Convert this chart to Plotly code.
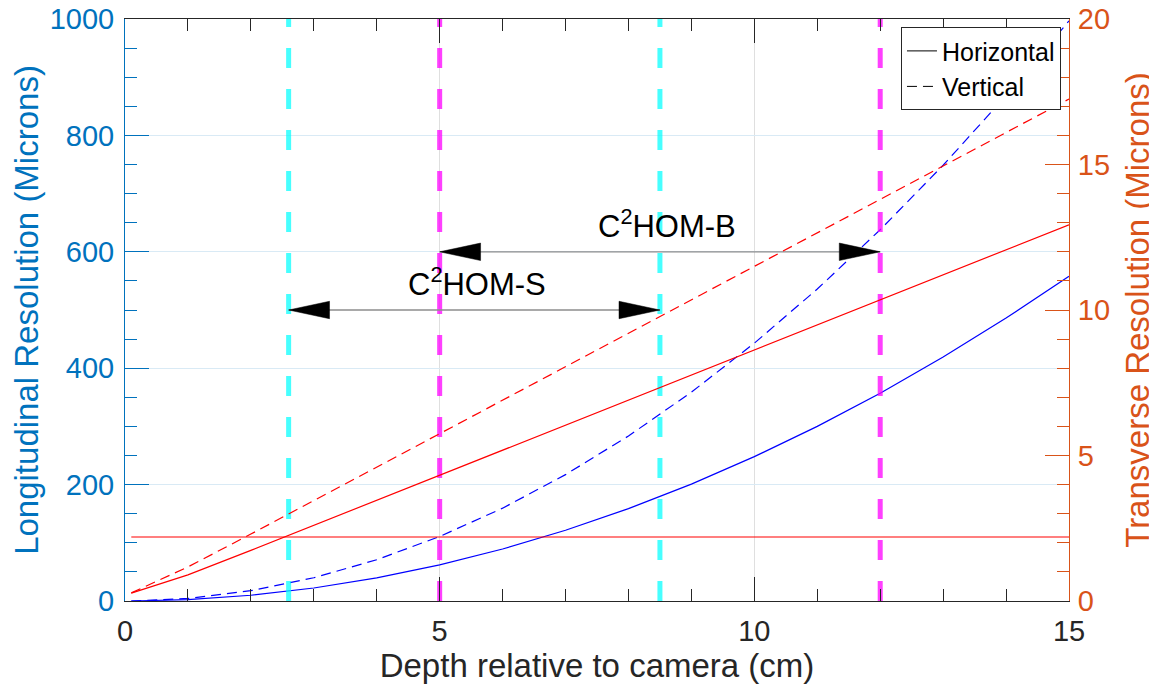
import plotly.graph_objects as go

# ---------------- data ----------------
x_cm = [0.1, 1, 2, 3, 4, 5, 6, 7, 8, 9, 10, 11, 12, 13, 14, 15]
long_h = [0.02, 2.5, 9.9, 22.3, 39.7, 62.0, 89.3, 121.5, 158.7, 200.9, 248.0, 300.1, 357.1, 419.1, 486.1, 558.0]
long_v = [0.04, 4.4, 17.7, 39.9, 70.9, 110.8, 159.5, 217.1, 283.5, 358.8, 443.0, 536.0, 637.9, 748.7, 868.3, 996.8]
trans_h = [0.27, 0.90, 1.74, 2.60, 3.46, 4.32, 5.18, 6.04, 6.90, 7.76, 8.62, 9.48, 10.35, 11.21, 12.07, 12.93]
trans_v = [0.28, 1.17, 2.30, 3.45, 4.60, 5.75, 6.90, 8.05, 9.20, 10.35, 11.50, 12.65, 13.80, 14.95, 16.10, 17.25]
floor_x = [0.1, 15]
floor_val = [2.2, 2.2]

cyan_x = [2.6, 8.5]
magenta_x = [5.0, 12.0]
guide_y = [0, 1000]

arrow_labels = ["C<sup>2</sup>HOM-S", "C<sup>2</sup>HOM-B"]
arrow_start = [2.6, 5.0]
arrow_end = [8.5, 12.0]
arrow_y = [500, 600]
label_x = [5.6, 8.62]

x_ticks = [0, 5, 10, 15]
left_ticks = [0, 200, 400, 600, 800, 1000]
right_ticks = [0, 5, 10, 15, 20]

# ---------------- style ----------------
FONT = "Liberation Sans, Arial, Helvetica, sans-serif"
AX_DARK = "#262626"
BLUE_AX = "#0072BD"
ORANGE_AX = "#D95319"
HEAD_LEN = 0.65      # cm
HEAD_HALF = 15       # microns
CURVE_W = 1.2
DASH = "10px,6px"

fig = go.Figure()

# longitudinal (left axis)
fig.add_trace(go.Scatter(x=x_cm, y=long_h, mode="lines", line=dict(color="#0000FF", width=CURVE_W),
                         showlegend=False, yaxis="y"))
fig.add_trace(go.Scatter(x=x_cm, y=long_v, mode="lines", line=dict(color="#0000FF", width=CURVE_W, dash=DASH),
                         showlegend=False, yaxis="y"))
# transverse (right axis)
fig.add_trace(go.Scatter(x=x_cm, y=trans_h, mode="lines", line=dict(color="#FF0000", width=CURVE_W),
                         showlegend=False, yaxis="y2"))
fig.add_trace(go.Scatter(x=x_cm, y=trans_v, mode="lines", line=dict(color="#FF0000", width=CURVE_W, dash=DASH),
                         showlegend=False, yaxis="y2"))
fig.add_trace(go.Scatter(x=floor_x, y=floor_val, mode="lines", line=dict(color="#FF0000", width=CURVE_W),
                         showlegend=False, yaxis="y2"))

# vertical guide lines
for cx in cyan_x:
    fig.add_trace(go.Scatter(x=[cx, cx], y=guide_y, mode="lines",
                             line=dict(color="rgba(0,255,255,0.72)", width=5, dash="20px,21px"),
                             showlegend=False, yaxis="y"))
for mx in magenta_x:
    fig.add_trace(go.Scatter(x=[mx, mx], y=guide_y, mode="lines",
                             line=dict(color="rgba(255,0,255,0.75)", width=5, dash="20px,21px"),
                             showlegend=False, yaxis="y"))

# double-headed arrows
for lab, s, e, ay, lx in zip(arrow_labels, arrow_start, arrow_end, arrow_y, label_x):
    fig.add_trace(go.Scatter(x=[s, e], y=[ay, ay], mode="lines", line=dict(color="#8c8c8c", width=1.3),
                             showlegend=False, yaxis="y"))
    fig.add_trace(go.Scatter(x=[s, s + HEAD_LEN, s + HEAD_LEN, s], y=[ay, ay + HEAD_HALF, ay - HEAD_HALF, ay],
                             mode="lines", fill="toself", fillcolor="black", line=dict(color="black", width=0.5),
                             showlegend=False, yaxis="y"))
    fig.add_trace(go.Scatter(x=[e, e - HEAD_LEN, e - HEAD_LEN, e], y=[ay, ay + HEAD_HALF, ay - HEAD_HALF, ay],
                             mode="lines", fill="toself", fillcolor="black", line=dict(color="black", width=0.5),
                             showlegend=False, yaxis="y"))
    fig.add_annotation(x=lx, y=ay, xref="x", yref="y", text=lab, showarrow=False,
                       xanchor="center", yanchor="bottom", yshift=6,
                       font=dict(family=FONT, size=31, color="black"))

# legend entries
fig.add_trace(go.Scatter(x=[None], y=[None], mode="lines", name="Horizontal",
                         line=dict(color="black", width=1)))
fig.add_trace(go.Scatter(x=[None], y=[None], mode="lines", name="Vertical",
                         line=dict(color="black", width=1, dash=DASH)))

fig.update_layout(
    width=1157, height=686,
    margin=dict(l=117, r=96, t=11, b=93),
    paper_bgcolor="white", plot_bgcolor="white",
    font=dict(family=FONT),
    xaxis=dict(
        range=[0, 15], tickvals=x_ticks, ticks="inside", ticklen=24, tickcolor=AX_DARK, tickwidth=1,
        showline=True, linecolor=AX_DARK, linewidth=1, mirror="ticks",
        showgrid=True, gridcolor="#DFDFDF", gridwidth=1, zeroline=False,
        minor=dict(ticks="inside", ticklen=12, dtick=1, tickcolor=AX_DARK, showgrid=False),
        tickfont=dict(family=FONT, size=29, color=AX_DARK), ticklabelstandoff=4,
        ticklabeloverflow="allow",
        title=dict(text="Depth relative to camera (cm)", font=dict(family=FONT, size=33, color=AX_DARK), standoff=5),
        automargin=False,
    ),
    yaxis=dict(
        range=[0, 1000], tickvals=left_ticks, ticks="inside", ticklen=24, tickcolor=BLUE_AX, tickwidth=1,
        showline=True, linecolor=BLUE_AX, linewidth=1,
        showgrid=True, gridcolor="#D9EAF5", gridwidth=1, zeroline=False,
        minor=dict(ticks="inside", ticklen=12, dtick=50, tickcolor=BLUE_AX, showgrid=False),
        tickfont=dict(family=FONT, size=29, color=BLUE_AX), ticklabelstandoff=4,
        ticklabeloverflow="allow",
        title=dict(text="Longitudinal Resolution (Microns)", font=dict(family=FONT, size=33, color=BLUE_AX), standoff=16),
        automargin=False,
    ),
    yaxis2=dict(
        range=[0, 20], tickvals=right_ticks, ticks="inside", ticklen=24, tickcolor=ORANGE_AX, tickwidth=1,
        showline=True, linecolor=ORANGE_AX, linewidth=1, side="right", overlaying="y",
        showgrid=False, zeroline=False,
        minor=dict(ticks="inside", ticklen=12, dtick=1, tickcolor=ORANGE_AX, showgrid=False),
        tickfont=dict(family=FONT, size=29, color=ORANGE_AX), ticklabelstandoff=2,
        ticklabeloverflow="allow",
        title=dict(text="Transverse Resolution (Microns)", font=dict(family=FONT, size=33, color=ORANGE_AX), standoff=16),
        automargin=False,
    ),
    legend=dict(x=0.9915, y=0.986, xanchor="right", yanchor="top", bgcolor="white",
                bordercolor=AX_DARK, borderwidth=1, font=dict(family=FONT, size=25, color="black"),
                itemwidth=30, tracegroupgap=0),
    showlegend=True,
)

fig.write_html("out.html")
